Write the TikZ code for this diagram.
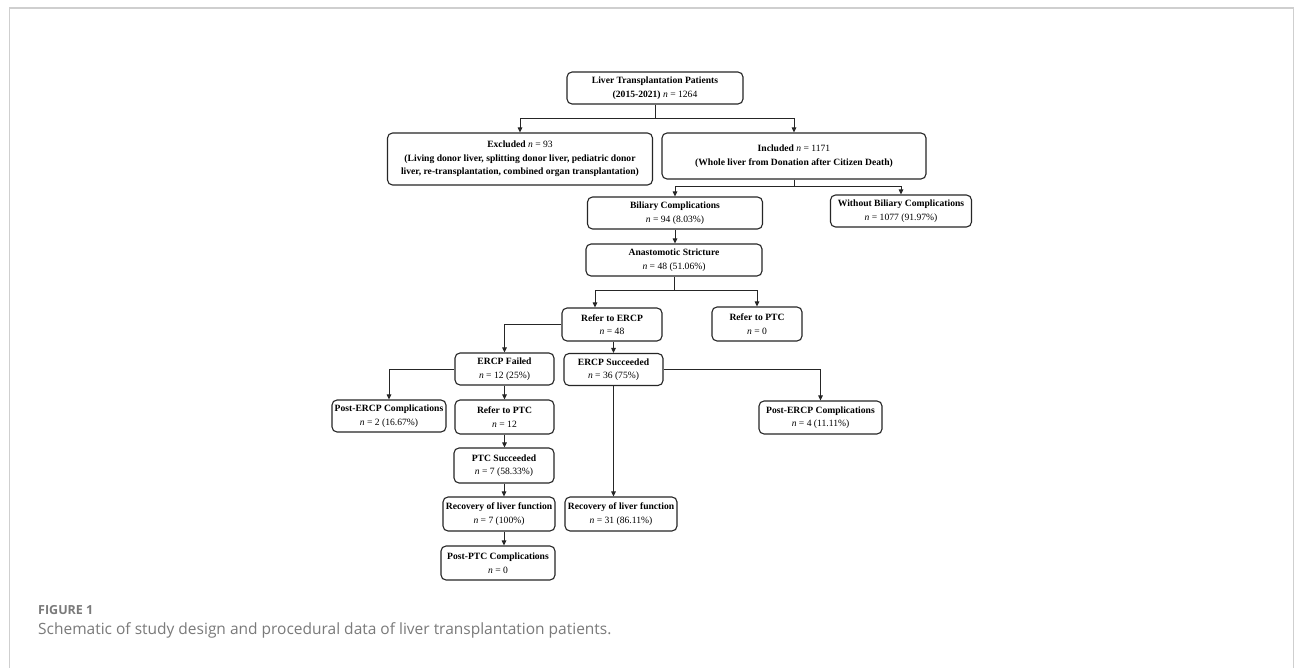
\documentclass[tikz,border=0pt]{standalone}
\usepackage{fontspec}
\setmainfont{Liberation Serif}
\newfontfamily\capfont{Open Sans}
\usetikzlibrary{arrows.meta,calc}
\definecolor{framegray}{HTML}{CFCFCF}
\definecolor{capgray}{HTML}{7A7A7A}
\definecolor{linec}{HTML}{262626}
\tikzset{
  box/.style={draw=linec, line width=1.1pt, rounded corners=5pt, align=center, inner sep=1pt,
    font=\fontsize{9.6}{13.5}\selectfont, text=black},
  conn/.style={draw=linec, line width=1pt},
  arr/.style={conn, -{Triangle[length=5pt,width=4.5pt]}},
}
\newcommand{\nn}{\textit{n}}
\begin{document}
\begin{tikzpicture}[x=1pt,y=-1pt]
\useasboundingbox (0,0) rectangle (1295,668);
\fill[white] (0,0) rectangle (1295,668);
\draw[framegray, line width=1.5pt] (9.5,668) -- (9.5,8) -- (1293.5,8) -- (1293.5,668);

% nodes
\node[box, minimum width=176pt, minimum height=32pt] (top) at (655,88)
  {\textbf{Liver Transplantation Patients}\\\textbf{(2015-2021)} \nn{} = 1264};
\node[box, minimum width=265pt, minimum height=52pt] (excl) at (520,159)
  {\textbf{Excluded} \nn{} = 93\\\textbf{(Living donor liver, splitting donor liver, pediatric donor}\\\textbf{liver, re-transplantation, combined organ transplantation)}};
\node[box, minimum width=264pt, minimum height=46pt] (incl) at (794,156)
  {\textbf{Included} \nn{} = 1171\\\textbf{(Whole liver from Donation after Citizen Death)}};
\node[box, minimum width=175pt, minimum height=32pt] (bil) at (675,213)
  {\textbf{Biliary Complications}\\\nn{} = 94 (8.03\%)};
\node[box, minimum width=141pt, minimum height=32pt] (without) at (901,211)
  {\textbf{Without Biliary Complications}\\\nn{} = 1077 (91.97\%)};
\node[box, minimum width=176pt, minimum height=32pt] (anast) at (674,260)
  {\textbf{Anastomotic Stricture}\\\nn{} = 48 (51.06\%)};
\node[box, minimum width=100pt, minimum height=33pt] (rercp) at (612,324.5)
  {\textbf{Refer to ERCP}\\\nn{} = 48};
\node[box, minimum width=90pt, minimum height=34pt] (rptcz) at (757,324)
  {\textbf{Refer to PTC}\\\nn{} = 0};
\node[box, minimum width=99pt, minimum height=32pt] (efail) at (504.5,369)
  {\textbf{ERCP Failed}\\\nn{} = 12 (25\%)};
\node[box, minimum width=99pt, minimum height=32pt] (esucc) at (613.5,369.5)
  {\textbf{ERCP Succeeded}\\\nn{} = 36 (75\%)};
\node[box, minimum width=114pt, minimum height=32pt] (pecl) at (389,416)
  {\textbf{Post-ERCP Complications}\\\nn{} = 2 (16.67\%)};
\node[box, minimum width=99pt, minimum height=34pt] (rptct) at (504.5,417)
  {\textbf{Refer to PTC}\\\nn{} = 12};
\node[box, minimum width=123pt, minimum height=33pt] (pecr) at (820.5,417.5)
  {\textbf{Post-ERCP Complications}\\\nn{} = 4 (11.11\%)};
\node[box, minimum width=100pt, minimum height=35pt] (ptcs) at (504,465.5)
  {\textbf{PTC Succeeded}\\\nn{} = 7 (58.33\%)};
\node[box, minimum width=112pt, minimum height=34pt] (recl) at (499,514)
  {\textbf{Recovery of liver function}\\\nn{} = 7 (100\%)};
\node[box, minimum width=112pt, minimum height=34pt] (recr) at (621,514)
  {\textbf{Recovery of liver function}\\\nn{} = 31 (86.11\%)};
\node[box, minimum width=114pt, minimum height=34pt] (pptc) at (498,563)
  {\textbf{Post-PTC Complications}\\\nn{} = 0};

% connectors
\draw[conn] (top.south) -- ++(0,14) coordinate (s1);
\draw[arr] (s1) -| (excl.north);
\draw[arr] (s1) -| (incl.north);
\draw[conn] (incl.south) -- ++(0,7) coordinate (s2);
\draw[arr] (s2) -| (bil.north);
\draw[arr] (s2) -| (without.north);
\draw[arr] (bil.south) -- (bil.south |- anast.north);
\draw[conn] (anast.south) -- ++(0,14) coordinate (s3);
\draw[arr] (s3) -| ([xshift=-17pt]rercp.north);
\draw[arr] (s3) -| (rptcz.north);
\draw[arr] (rercp.west) -| (efail.north);
\draw[arr] (esucc.north |- rercp.south) -- (esucc.north);
\draw[arr] (efail.west) -| (pecl.north);
\draw[arr] (efail.south) -- (efail.south |- rptct.north);
\draw[arr] (esucc.east) -| (pecr.north);
\draw[arr] (esucc.south) -- (esucc.south |- recr.north);
\draw[arr] (rptct.south) -- (rptct.south |- ptcs.north);
\draw[arr] (ptcs.south) -- (ptcs.south |- recl.north);
\draw[arr] (ptcs.south |- recl.south) -- (ptcs.south |- pptc.north);

% caption
\node[anchor=base west, inner sep=0pt, text=capgray, font=\capfont\bfseries\fontsize{12.5}{14}\selectfont] (figlabel) at (38,614) {FIGURE 1};
\node[anchor=base west, inner sep=0pt, text=capgray, font=\capfont\fontsize{15.5}{18}\selectfont] (figcap) at (38,634) {Schematic of study design and procedural data of liver transplantation patients.};
\end{tikzpicture}
\end{document}
